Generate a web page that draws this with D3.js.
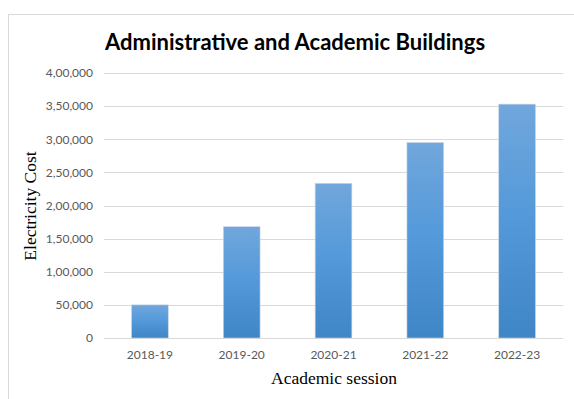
<!DOCTYPE html>
<html>
<head>
<meta charset="utf-8">
<script src="https://cdn.jsdelivr.net/npm/d3@7"></script>
<style>
  body { margin: 0; background: #fff; }
</style>
</head>
<body>
<div id="chart"></div>
<script>
// data
var sessions = ["2018-19", "2019-20", "2020-21", "2021-22", "2022-23"];
var costs = [50000, 168000, 233500, 295000, 353000];
var yTicks = [0, 50000, 100000, 150000, 200000, 250000, 300000, 350000, 400000];

var W = 574, H = 399;
var margin = {top: 73, right: 11, bottom: 61, left: 104},
    width = W - margin.left - margin.right,
    height = H - margin.top - margin.bottom;

// indian style grouping: 3,50,000
function inr(v) {
  if (v === 0) return "0";
  var s = String(v);
  var last3 = s.slice(-3), rest = s.slice(0, -3);
  if (rest.length === 0) return last3;
  rest = rest.replace(/\B(?=(\d{2})+(?!\d))/g, ",");
  return rest + "," + last3;
}

var svg = d3.select("#chart")
  .append("svg")
    .attr("width", W)
    .attr("height", H);

// chart frame
svg.append("rect")
  .attr("x", 8.5).attr("y", 14.5)
  .attr("width", W + 10).attr("height", H + 10)
  .attr("fill", "none")
  .attr("stroke", "#d9d9d9");

var defs = svg.append("defs");
var grad = defs.append("linearGradient")
  .attr("id", "barGrad")
  .attr("x1", 0).attr("y1", 0).attr("x2", 0).attr("y2", 1);
grad.append("stop").attr("offset", "0%").attr("stop-color", "#71a7dc");
grad.append("stop").attr("offset", "45%").attr("stop-color", "#559ada");
grad.append("stop").attr("offset", "100%").attr("stop-color", "#3f86c6");

svg.append("text")
  .attr("x", 295).attr("y", 50)
  .attr("text-anchor", "middle")
  .style("font-family", "Lato, 'Open Sans', sans-serif")
  .style("font-weight", "bold")
  .style("font-size", "22px")
  .style("fill", "#000")
  .text("Administrative and Academic Buildings");

var g = svg.append("g")
  .attr("transform", "translate(" + margin.left + "," + margin.top + ")");

var x = d3.scaleBand()
  .domain(sessions)
  .range([0, width])
  .paddingInner(0.6)
  .paddingOuter(0.3);

var y = d3.scaleLinear()
  .domain([0, 400000])
  .range([height, 0]);

// gridlines
g.append("g")
  .selectAll("line")
  .data(yTicks)
  .enter()
  .append("line")
    .attr("x1", 0).attr("x2", width)
    .attr("y1", d => Math.round(y(d)) + 0.5)
    .attr("y2", d => Math.round(y(d)) + 0.5)
    .attr("stroke", "#d9d9d9")
    .attr("stroke-width", 1);

// y axis labels
var yAxis = g.append("g")
  .call(d3.axisLeft(y).tickValues(yTicks).tickFormat(inr).tickSize(0).tickPadding(11));
yAxis.select(".domain").remove();
yAxis.selectAll("text")
  .style("font-family", "Lato, 'Open Sans', sans-serif")
  .style("font-size", "12px")
  .style("fill", "#595959");

// bars
g.append("g")
  .selectAll("rect")
  .data(costs)
  .enter()
  .append("rect")
    .attr("x", (d, i) => x(sessions[i]))
    .attr("y", d => y(d))
    .attr("width", x.bandwidth())
    .attr("height", d => height - y(d))
    .attr("fill", "url(#barGrad)")
    .attr("stroke", "#c9d6e3")
    .attr("stroke-width", 0.6);

// x axis labels
var xAxis = g.append("g")
  .attr("transform", "translate(0," + height + ")")
  .call(d3.axisBottom(x).tickSize(0).tickPadding(12));
xAxis.select(".domain").remove();
xAxis.selectAll("text")
  .style("font-family", "Lato, 'Open Sans', sans-serif")
  .style("font-size", "12px")
  .style("fill", "#595959");

// axis titles
svg.append("text")
  .attr("x", 334).attr("y", 384)
  .attr("text-anchor", "middle")
  .style("font-family", "'Liberation Serif', 'DejaVu Serif', serif")
  .style("font-size", "17.5px")
  .style("fill", "#000")
  .text("Academic session");

svg.append("text")
  .attr("transform", "translate(36,206) rotate(-90)")
  .attr("text-anchor", "middle")
  .style("font-family", "'Liberation Serif', 'DejaVu Serif', serif")
  .style("font-size", "17.5px")
  .style("fill", "#000")
  .text("Electricity Cost");
</script>
</body>
</html>
